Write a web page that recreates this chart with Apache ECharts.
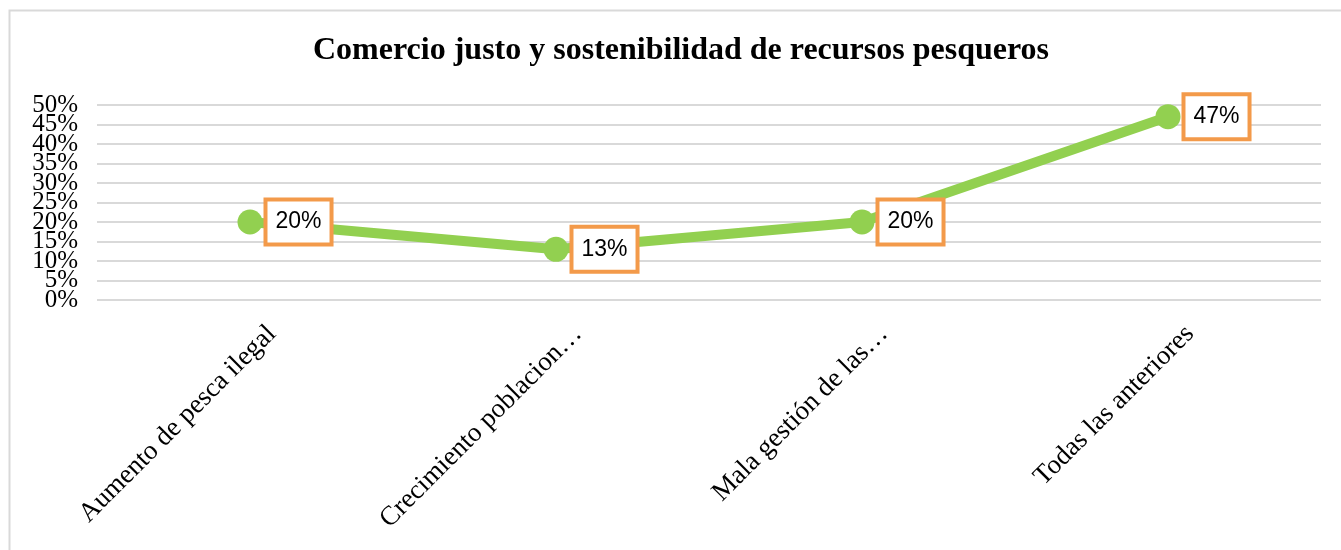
<!DOCTYPE html>
<html>
<head>
<meta charset="utf-8">
<script src="https://cdn.jsdelivr.net/npm/echarts@6/dist/echarts.min.js"></script>
<style>
  html, body { margin: 0; padding: 0; background: #fff; }
  #chart { width: 1341px; height: 550px; }
</style>
</head>
<body>
<div id="chart"></div>
<script>
// Chart data
const categories = [
  'Aumento de pesca ilegal',
  'Crecimiento poblacion…',
  'Mala gestión de las…',
  'Todas las anteriores'
];
const shares = [20, 13, 20, 47];
const yTicks = [0, 5, 10, 15, 20, 25, 30, 35, 40, 45, 50];
const chartTitle = 'Comercio justo y sostenibilidad de recursos pesqueros';

const yMin = yTicks[0];
const yMax = yTicks[yTicks.length - 1];
const yStep = yTicks[1] - yTicks[0];

// Plot area geometry
const plotTop = 105;
const plotHeight = 195;
const pxPerStep = plotHeight / ((yMax - yMin) / yStep);

// The percentage labels sit closer together than their font height, so they are
// split over two label-only axes (even and odd ticks) to keep every one visible.
const tickLabel = v => (yTicks.indexOf(v) >= 0 ? v + '%' : '');
const yLabelStyle = {
  margin: 19,
  fontFamily: 'Liberation Serif',
  fontSize: 25,
  color: '#000',
  formatter: tickLabel
};

const chart = echarts.init(document.getElementById('chart'));

chart.setOption({
  animation: false,
  backgroundColor: '#ffffff',
  title: {
    text: chartTitle,
    left: 308,
    top: 30,
    textStyle: {
      fontFamily: 'Liberation Serif',
      fontWeight: 'bold',
      fontSize: 32,
      color: '#000'
    }
  },
  graphic: [{
    type: 'rect',
    shape: { x: 9.5, y: 10.5, width: 1340, height: 545 },
    style: { fill: 'none', stroke: '#d9d9d9', lineWidth: 2 },
    silent: true,
    z: -1
  }],
  grid: [
    { left: 97, right: 20, top: plotTop, height: plotHeight, outerBoundsMode: 'none' },
    { left: 97, right: 20, top: plotTop - pxPerStep, height: plotHeight + 2 * pxPerStep, outerBoundsMode: 'none' }
  ],
  xAxis: [{
    type: 'category',
    gridIndex: 0,
    data: categories,
    boundaryGap: true,
    axisLine: { show: false },
    axisTick: { show: false },
    axisLabel: {
      rotate: 45,
      margin: 8,
      verticalAlign: 'top',
      lineHeight: 30,
      padding: [16, 0, 0, 0],
      fontFamily: 'Liberation Serif',
      fontSize: 27,
      color: '#000',
      interval: 0
    }
  }, {
    type: 'category',
    gridIndex: 1,
    data: categories,
    show: false
  }],
  yAxis: [{
    // gridlines at every step
    type: 'value',
    gridIndex: 0,
    position: 'left',
    min: yMin,
    max: yMax,
    interval: yStep,
    axisLine: { show: false },
    axisTick: { show: false },
    axisLabel: { show: false },
    splitLine: { lineStyle: { color: '#d9d9d9', width: 2 } }
  }, {
    // labels 0%, 10%, ... 50%
    type: 'value',
    gridIndex: 0,
    position: 'left',
    offset: 0,
    min: yMin,
    max: yMax,
    interval: 2 * yStep,
    axisLine: { show: false },
    axisTick: { show: false },
    splitLine: { show: false },
    axisLabel: yLabelStyle
  }, {
    // labels 5%, 15%, ... 45%
    type: 'value',
    gridIndex: 1,
    position: 'left',
    min: yMin - yStep,
    max: yMax + yStep,
    interval: 2 * yStep,
    axisLine: { show: false },
    axisTick: { show: false },
    splitLine: { show: false },
    axisLabel: yLabelStyle
  }],
  series: [{
    type: 'line',
    xAxisIndex: 0,
    yAxisIndex: 0,
    data: shares,
    symbol: 'circle',
    symbolSize: 25,
    lineStyle: { color: '#92D050', width: 10 },
    itemStyle: { color: '#92D050' },
    label: {
      show: true,
      position: 'right',
      distance: 5,
      formatter: p => p.value + '%',
      fontFamily: 'Liberation Sans',
      fontSize: 23,
      color: '#000',
      backgroundColor: '#ffffff',
      borderColor: '#F39A4A',
      borderWidth: 4,
      padding: [10, 8, 8, 8]
    },
    z: 3
  }]
});
</script>
</body>
</html>
